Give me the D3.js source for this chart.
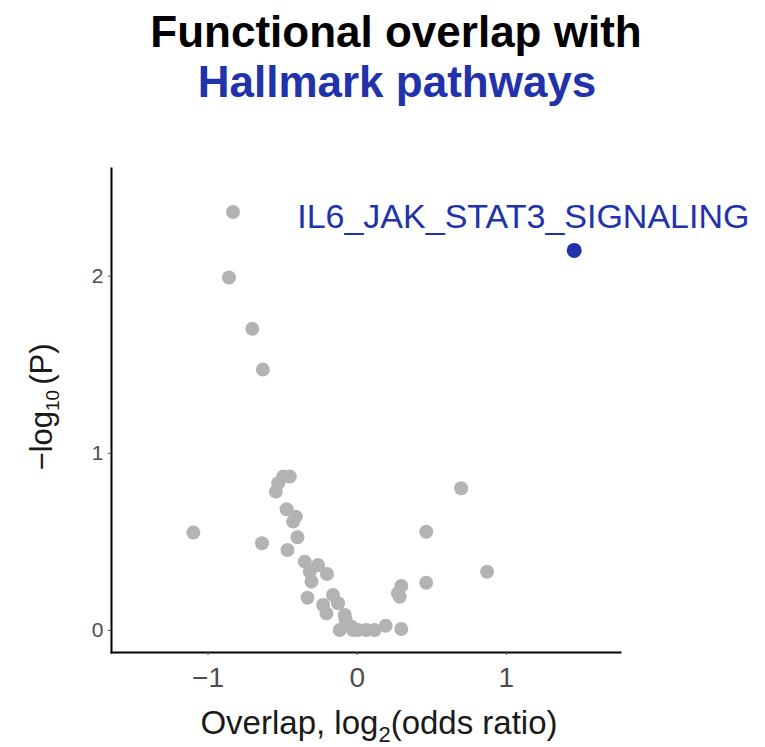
<!DOCTYPE html>
<html>
<head>
<meta charset="utf-8">
<script src="https://cdn.jsdelivr.net/npm/d3@7"></script>
<style>
  body { margin: 0; background: #fff; }
  text { font-family: "Liberation Sans", Arial, sans-serif; }
</style>
</head>
<body>
<svg width="765" height="747"></svg>
<script>
// overlap log2(odds ratio) for each Hallmark pathway (grey points)
const overlapLog2OR = [
  -0.829, -0.856, -0.700, -0.629, -1.095, -0.635, -0.493, -0.448, -0.526, -0.542,
  -0.470, -0.408, -0.426, -0.397, -0.464, -0.348, -0.259, -0.314, -0.199, -0.303,
  -0.330, -0.159, -0.225, -0.125, -0.203, -0.080, -0.074, -0.114, -0.035, -0.025,
  0.009, 0.065, 0.120, 0.194, 0.299, 0.299, 0.276, 0.288, 0.466, 0.466,
  0.700, 0.874
];
// -log10(P) for the same pathways
const negLog10P = [
  2.36, 1.99, 1.70, 1.47, 0.55, 0.49, 0.866, 0.866, 0.829, 0.781,
  0.682, 0.640, 0.612, 0.524, 0.452, 0.386, 0.367, 0.329, 0.316, 0.273,
  0.182, 0.198, 0.141, 0.151, 0.094, 0.085, 0.056, 0.0, 0.019, 0.0,
  0.0, 0.0, 0.0, 0.024, 0.006, 0.249, 0.207, 0.188, 0.555, 0.267,
  0.80, 0.329
];
// highlighted pathway
const hiName = ['IL6_JAK_STAT3_SIGNALING'];
const hiX = [1.458];
const hiY = [2.143];

const xTicks = [-1, 0, 1];
const yTicks = [0, 1, 2];

const grey = '#b3b3b3';
const blue = '#2132aa';

const svg = d3.select('svg');

// panel edges (axis lines)
const panel = { left: 111, right: 620, top: 168, bottom: 652 };

// x: -1 at 208.3, 0 at 356.7, 1 at 506.7
const x = d3.scaleLinear().domain([-1.647, 1.765]).range([panel.left, panel.right]);
// y: 0 at 630, 2 at 275.7
const y = d3.scaleLinear().domain([-0.124, 2.608]).range([panel.bottom, panel.top]);

// title
const title = svg.append('text')
  .attr('text-anchor', 'middle')
  .style('font-weight', 'bold').style('font-size', '44px');
title.append('tspan').attr('x', 396).attr('y', 47).attr('fill', '#000').text('Functional overlap with');
title.append('tspan').attr('x', 397).attr('y', 97).attr('fill', blue).text('Hallmark pathways');

// points
const pts = overlapLog2OR.map((v, i) => ({ x: v, y: negLog10P[i] }));
svg.append('g')
  .selectAll('circle')
  .data(pts)
  .enter()
  .append('circle')
  .attr('cx', d => x(d.x))
  .attr('cy', d => y(d.y))
  .attr('r', 7)
  .attr('fill', grey);

svg.append('g')
  .selectAll('circle')
  .data(hiX)
  .enter()
  .append('circle')
  .attr('cx', (d, i) => x(d))
  .attr('cy', (d, i) => y(hiY[i]))
  .attr('r', 7.5)
  .attr('fill', blue);

svg.append('g')
  .selectAll('text')
  .data(hiName)
  .enter()
  .append('text')
  .attr('x', (d, i) => x(hiX[i]) - 277)
  .attr('y', (d, i) => y(hiY[i]) - 22)
  .attr('fill', blue)
  .style('font-size', '34px')
  .text(d => d);

// y axis
const yAxis = svg.append('g')
  .attr('transform', 'translate(' + panel.left + ',0)')
  .call(d3.axisLeft(y).tickValues(yTicks).tickFormat(d3.format('d')).tickSize(3).tickSizeOuter(0).tickPadding(4.5));

// x axis
const xAxis = svg.append('g')
  .attr('transform', 'translate(0,' + panel.bottom + ')')
  .call(d3.axisBottom(x).tickValues(xTicks).tickFormat(d3.format('d')).tickSize(3).tickSizeOuter(0).tickPadding(12));

[xAxis, yAxis].forEach(g => {
  g.attr('font-family', '"Liberation Sans", Arial, sans-serif');
  g.select('.domain').attr('stroke', '#000').attr('stroke-width', 2).attr('stroke-linecap', 'square');
  g.selectAll('.tick line').attr('stroke', '#4d4d4d').attr('stroke-width', 1);
  g.selectAll('.tick text').attr('fill', '#4d4d4d');
});
yAxis.attr('font-size', 21);
xAxis.attr('font-size', 28);

// x axis title
const xl = svg.append('text')
  .attr('x', 379).attr('y', 734)
  .attr('text-anchor', 'middle')
  .attr('fill', '#1a1a1a')
  .style('font-size', '33px');
xl.append('tspan').text('Overlap, log');
xl.append('tspan').attr('dy', 8).style('font-size', '22px').text('2');
xl.append('tspan').attr('dy', -8).text('(odds ratio)');

// y axis title
const yl = svg.append('text')
  .attr('transform', 'translate(52,407) rotate(-90)')
  .attr('text-anchor', 'middle')
  .attr('fill', '#1a1a1a')
  .style('font-size', '31px');
yl.append('tspan').text('\u2212log');
yl.append('tspan').attr('dy', 7).style('font-size', '19px').text('10');
yl.append('tspan').attr('dy', -7).attr('dx', 5).text('(P)');
</script>
</body>
</html>
